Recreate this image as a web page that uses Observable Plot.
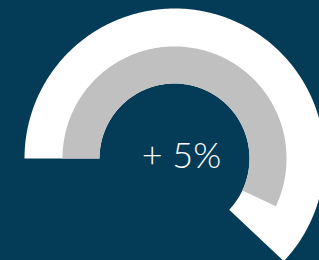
<!DOCTYPE html>
<html><head><meta charset="utf-8">
<script src="https://cdn.jsdelivr.net/npm/d3@7"></script>
<script src="https://cdn.jsdelivr.net/npm/@observablehq/plot@0.6"></script>
<style>html,body{margin:0;padding:0;background:#043c57;overflow:hidden}</style>
</head><body><div id="chart"></div>
<script>
// Gauge values: share of a full circle (percent)
const series = ["Current", "Previous"];
const values = [62, 57];
const changeLabel = ["+ 5%"];

// Ring geometry (in scale units, outer radius = 1)
const rings = {Current: [0.5, 1.0], Previous: [0.5, 0.747]};

function arcPolygon(name, value) {
  const [r0, r1] = rings[name];
  const sweep = 2 * Math.PI * value / 100;
  const start = -Math.PI / 2; // 9 o'clock, clockwise
  const n = 240;
  const pts = [];
  for (let i = 0; i <= n; i++) {
    const a = start + sweep * i / n;
    pts.push({series: name, x: r1 * Math.sin(a), y: r1 * Math.cos(a)});
  }
  for (let i = n; i >= 0; i--) {
    const a = start + sweep * i / n;
    pts.push({series: name, x: r0 * Math.sin(a), y: r0 * Math.cos(a)});
  }
  return pts;
}

const arcs = series.map((s, i) => arcPolygon(s, values[i]));
const colors = ["#ffffff", "#c0c0c0"];
const center = [{x: 0, y: 0, label: changeLabel[0]}];

const W = 319, H = 260, U = 150;
const chart = Plot.plot({
  width: W, height: H,
  margin: 0,
  style: {background: "#043c57", overflow: "hidden"},
  x: {domain: [-174 / U, (W - 174) / U], axis: null},
  y: {domain: [-(H - 158) / U, 158 / U], axis: null},
  marks: [
    ...arcs.map((pts, i) => Plot.line(pts, {x: "x", y: "y", fill: colors[i], stroke: "none", curve: "linear"})),
    Plot.text(center, {x: "x", y: "y", text: "label", fill: "#ffffff", fontSize: 36, fontWeight: 300,
      fontFamily: "Lato, 'Open Sans', sans-serif", textAnchor: "middle", lineAnchor: "middle", dx: 7, dy: -2})
  ]
});
document.getElementById("chart").appendChild(chart);
</script>
</body></html>
